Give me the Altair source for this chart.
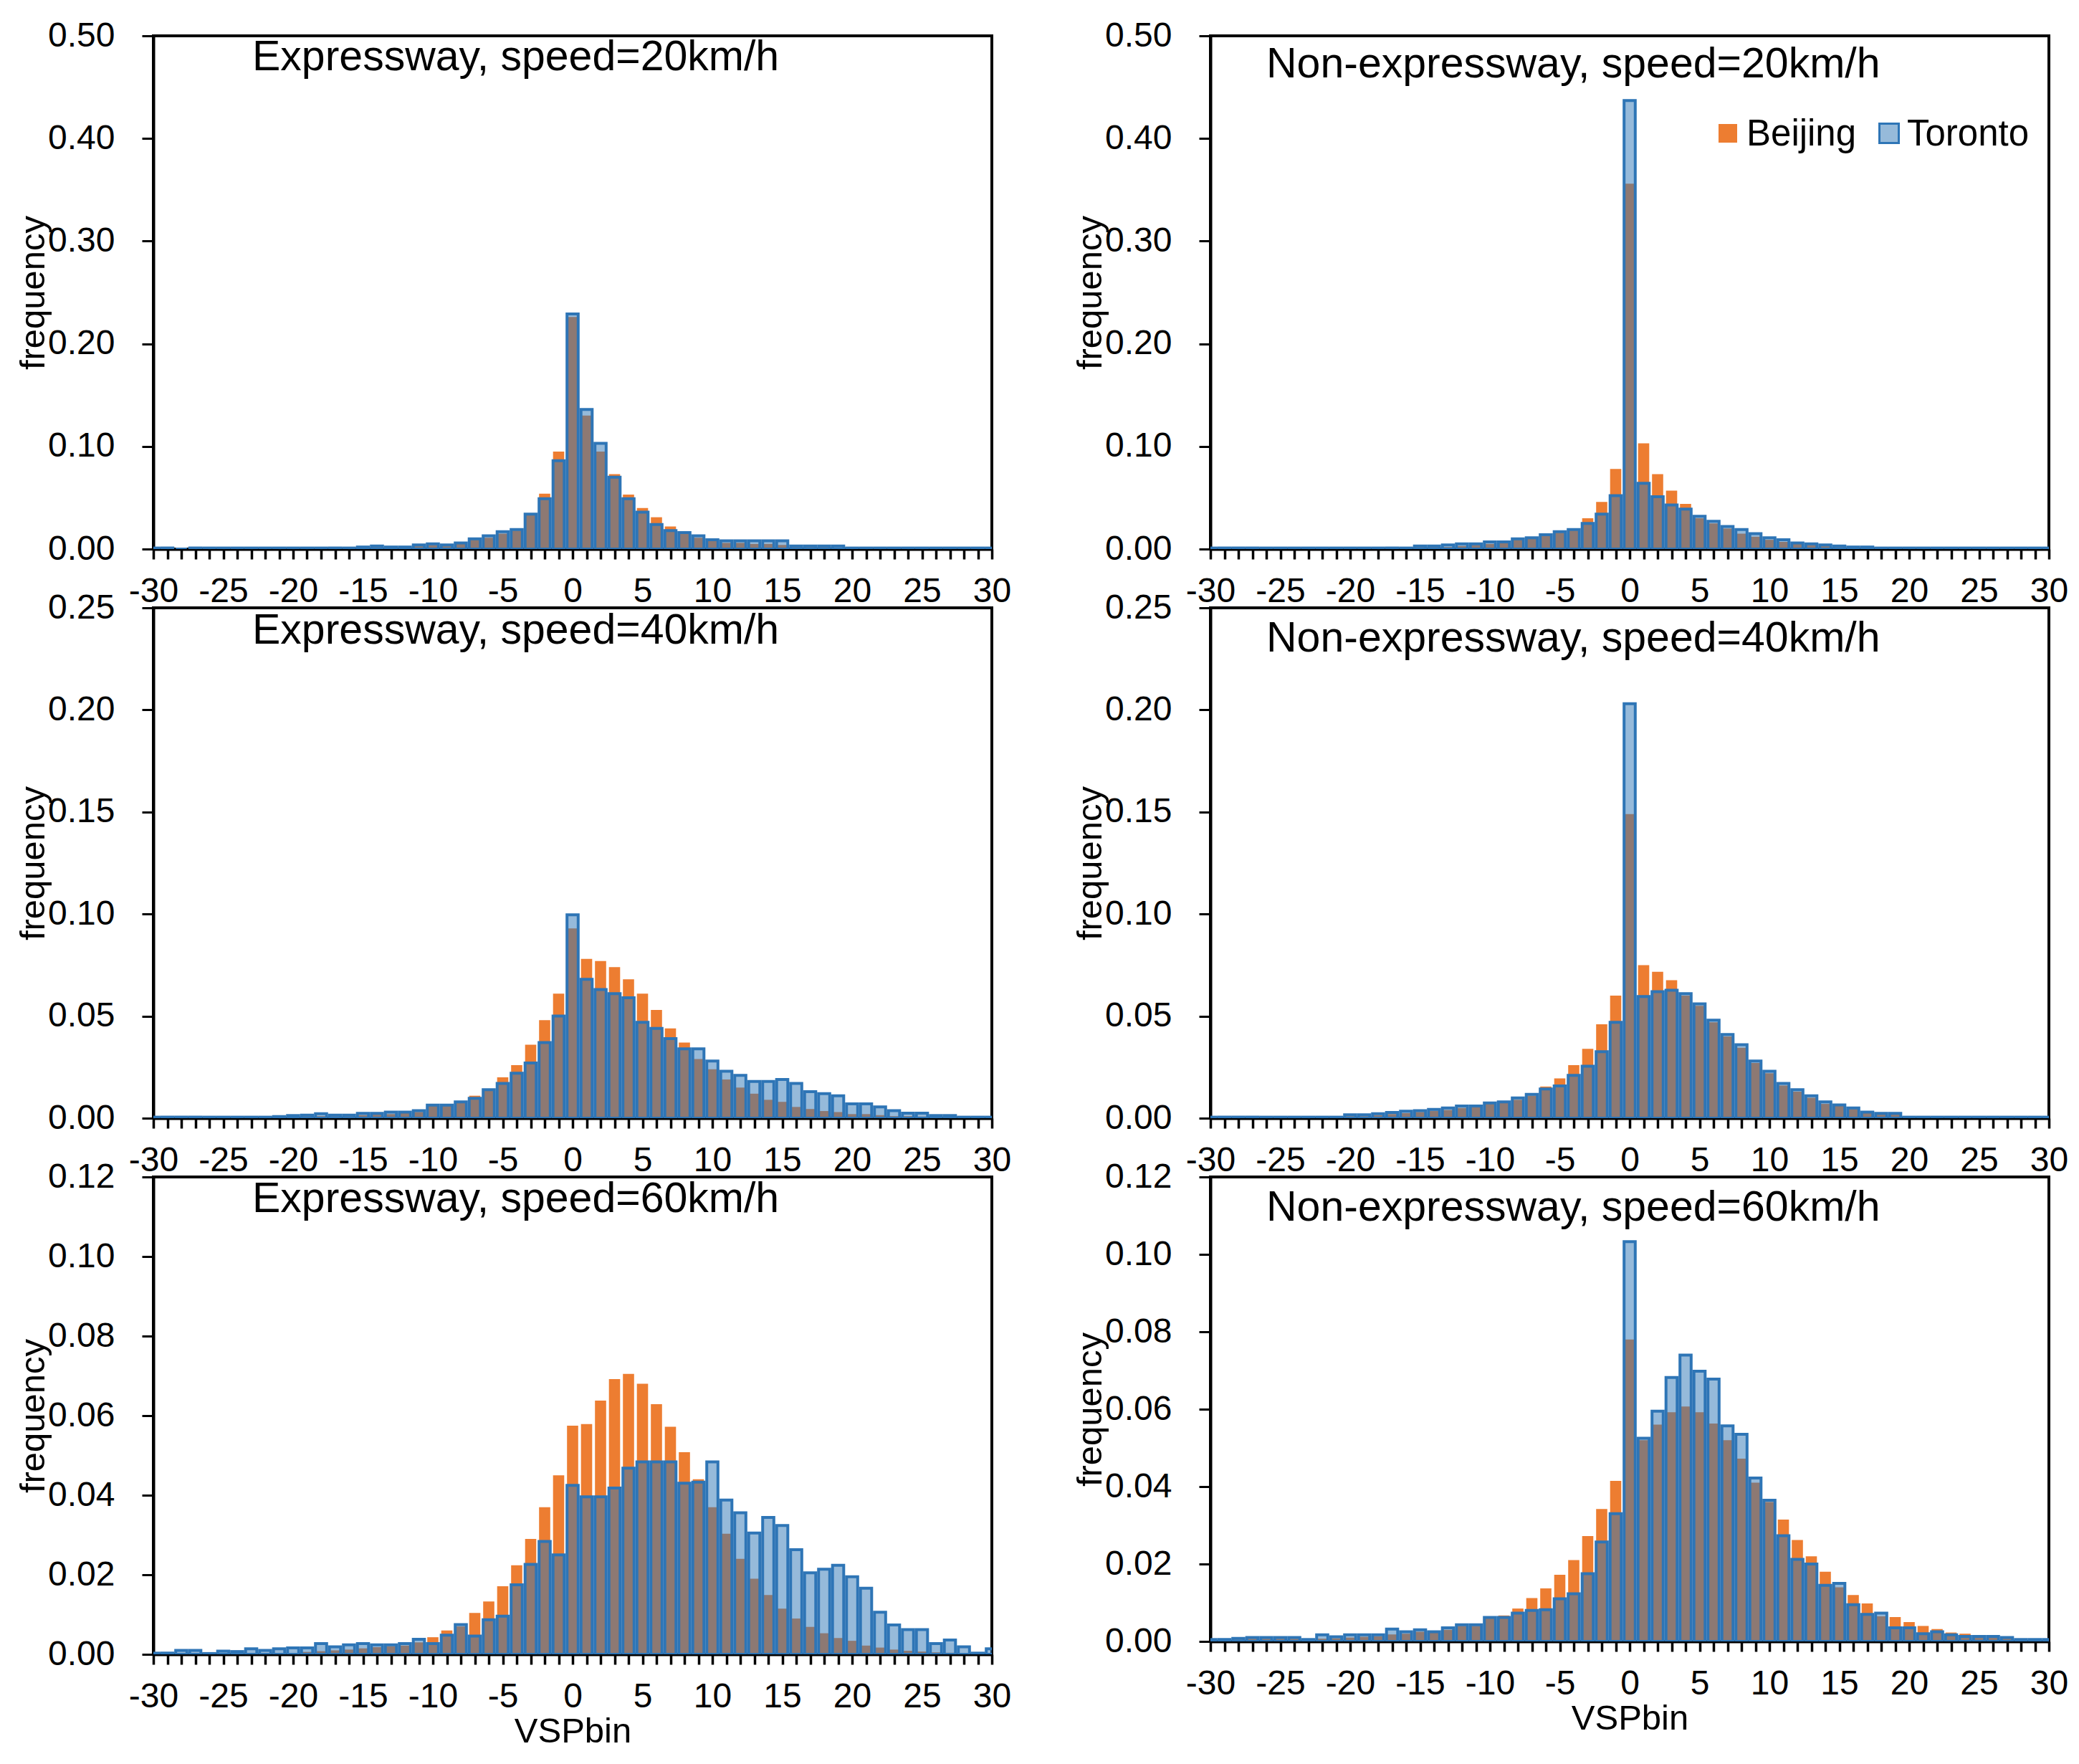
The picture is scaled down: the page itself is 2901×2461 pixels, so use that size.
import pandas as pd
import altair as alt

# VSP bins, one bar per integer bin
bins = list(range(-30, 31))

# frequencies, bins -30 .. 30
exp20_beijing = [0.0005, 0.0005, 0.0, 0.0008, 0.0008, 0.0008, 0.0008, 0.0008, 0.0008, 0.0008,
                 0.0008, 0.0008, 0.0008, 0.0008, 0.0008, 0.001, 0.002, 0.0015, 0.0015, 0.003,
                 0.004, 0.003, 0.005, 0.009, 0.011, 0.015, 0.018, 0.033, 0.054, 0.095,
                 0.226,
                 0.130, 0.095, 0.073, 0.053, 0.040, 0.031, 0.022, 0.017, 0.011, 0.008,
                 0.006, 0.006, 0.005, 0.005, 0.004, 0.002, 0.002, 0.002, 0.0015, 0.0008,
                 0.0008, 0.0008, 0.0008, 0.0008, 0.0008, 0.0008, 0.0008, 0.0008, 0.0008, 0.0008]
exp20_toronto = [0.001, 0.001, 0.0, 0.001, 0.001, 0.001, 0.001, 0.001, 0.001, 0.001,
                 0.001, 0.001, 0.001, 0.001, 0.001, 0.002, 0.003, 0.002, 0.002, 0.004,
                 0.005, 0.004, 0.006, 0.010, 0.013, 0.017, 0.019, 0.034, 0.049, 0.086,
                 0.229,
                 0.136, 0.103, 0.070, 0.049, 0.036, 0.024, 0.018, 0.016, 0.013, 0.009,
                 0.008, 0.008, 0.008, 0.008, 0.008, 0.003, 0.003, 0.003, 0.003, 0.001,
                 0.001, 0.001, 0.001, 0.001, 0.001, 0.001, 0.001, 0.001, 0.001, 0.001]

nonexp20_beijing = [0.0005, 0.0005, 0.0005, 0.0005, 0.0005, 0.0005, 0.0005, 0.0005, 0.0005, 0.0005,
                    0.0005, 0.0005, 0.0005, 0.0005, 0.0005, 0.002, 0.002, 0.002, 0.003, 0.004,
                    0.005, 0.006, 0.009, 0.010, 0.013, 0.016, 0.019, 0.030, 0.046, 0.078,
                    0.356,
                    0.103, 0.073, 0.057, 0.044, 0.030, 0.025, 0.020, 0.015, 0.012, 0.009,
                    0.007, 0.005, 0.004, 0.003, 0.002, 0.001, 0.001, 0.0005, 0.0005, 0.0005,
                    0.0005, 0.0005, 0.0005, 0.0005, 0.0005, 0.0005, 0.0005, 0.0005, 0.0005, 0.0005]
nonexp20_toronto = [0.001, 0.001, 0.001, 0.001, 0.001, 0.001, 0.001, 0.001, 0.001, 0.001,
                    0.001, 0.001, 0.001, 0.001, 0.001, 0.003, 0.003, 0.004, 0.005, 0.005,
                    0.007, 0.007, 0.010, 0.011, 0.014, 0.017, 0.019, 0.025, 0.034, 0.052,
                    0.437,
                    0.064, 0.051, 0.043, 0.039, 0.032, 0.027, 0.022, 0.019, 0.015, 0.011,
                    0.009, 0.006, 0.005, 0.004, 0.003, 0.002, 0.002, 0.001, 0.001, 0.001,
                    0.001, 0.001, 0.001, 0.001, 0.001, 0.001, 0.001, 0.001, 0.001, 0.001]

exp40_beijing = [0.0003, 0.0003, 0.0003, 0.0003, 0.0003, 0.0003, 0.0003, 0.0003, 0.0003, 0.0005,
                 0.0008, 0.001, 0.001, 0.001, 0.001, 0.0015, 0.002, 0.002, 0.0025, 0.003,
                 0.006, 0.006, 0.008, 0.011, 0.014, 0.020, 0.026, 0.036, 0.048, 0.061,
                 0.093,
                 0.078, 0.077, 0.074, 0.068, 0.061, 0.053, 0.044, 0.037, 0.029, 0.024,
                 0.019, 0.015, 0.012, 0.009, 0.008, 0.0055, 0.0045, 0.0035, 0.003, 0.002,
                 0.002, 0.0015, 0.001, 0.001, 0.0008, 0.0005, 0.0005, 0.0005, 0.0005, 0.0005]
exp40_toronto = [0.0005, 0.0005, 0.0005, 0.0005, 0.0005, 0.0005, 0.0005, 0.0005, 0.0005, 0.0008,
                 0.0013, 0.0015, 0.0022, 0.0015, 0.0015, 0.0024, 0.0024, 0.003, 0.003, 0.0037,
                 0.0064, 0.0064, 0.008, 0.0097, 0.014, 0.017, 0.022, 0.027, 0.037, 0.050,
                 0.0996,
                 0.068, 0.063, 0.061, 0.059, 0.047, 0.044, 0.039, 0.034, 0.034, 0.028,
                 0.023, 0.021, 0.018, 0.018, 0.019, 0.017, 0.013, 0.012, 0.011, 0.007,
                 0.007, 0.0055, 0.0037, 0.0025, 0.0025, 0.0013, 0.0013, 0.0005, 0.0005, 0.0005]

nonexp40_beijing = [0.0003, 0.0003, 0.0003, 0.0003, 0.0003, 0.0003, 0.0003, 0.0003, 0.0003, 0.0003,
                    0.001, 0.001, 0.0015, 0.002, 0.0025, 0.003, 0.0035, 0.004, 0.005, 0.0055,
                    0.007, 0.0075, 0.009, 0.011, 0.0155, 0.0195, 0.026, 0.034, 0.046, 0.060,
                    0.149,
                    0.075, 0.0717, 0.0676, 0.060, 0.055, 0.047, 0.040, 0.0345, 0.027, 0.022,
                    0.016, 0.013, 0.010, 0.007, 0.006, 0.0045, 0.0028, 0.002, 0.002, 0.0003,
                    0.0003, 0.0003, 0.0003, 0.0003, 0.0003, 0.0003, 0.0003, 0.0003, 0.0003, 0.0003]
nonexp40_toronto = [0.0005, 0.0005, 0.0005, 0.0005, 0.0005, 0.0005, 0.0005, 0.0005, 0.0005, 0.0005,
                    0.0017, 0.0017, 0.0022, 0.0028, 0.0034, 0.0037, 0.0043, 0.005, 0.006, 0.006,
                    0.0075, 0.008, 0.0099, 0.0117, 0.0143, 0.0158, 0.021, 0.0255, 0.0326, 0.047,
                    0.203,
                    0.0596, 0.062, 0.0627, 0.061, 0.056, 0.048, 0.041, 0.036, 0.028, 0.023,
                    0.017, 0.014, 0.011, 0.008, 0.0065, 0.005, 0.003, 0.0024, 0.0024, 0.0005,
                    0.0005, 0.0005, 0.0005, 0.0005, 0.0005, 0.0005, 0.0005, 0.0005, 0.0005, 0.0005]

exp60_beijing = [0.0003, 0.0003, 0.0003, 0.0003, 0.0003, 0.0003, 0.0003, 0.0003, 0.0003, 0.0003,
                 0.0003, 0.0006, 0.0008, 0.001, 0.0012, 0.0015, 0.0018, 0.002, 0.0022, 0.003,
                 0.0043, 0.006, 0.007, 0.0104, 0.0133, 0.0171, 0.0224, 0.029, 0.037, 0.045,
                 0.0575,
                 0.0579, 0.0638, 0.0692, 0.0705, 0.068, 0.0629, 0.0572, 0.0508, 0.044, 0.037,
                 0.0303, 0.024, 0.019, 0.0149, 0.0115, 0.009, 0.0069, 0.0053, 0.0041, 0.0034,
                 0.0022, 0.0017, 0.0012, 0.0009, 0.0007, 0.0005, 0.0004, 0.0003, 0.0002, 0.0002]
exp60_toronto = [0.0003, 0.0003, 0.001, 0.001, 0.0002, 0.0008, 0.0007, 0.0014, 0.001, 0.0014,
                 0.0016, 0.0016, 0.0027, 0.0019, 0.0024, 0.0027, 0.0024, 0.0024, 0.0027, 0.0038,
                 0.0027, 0.0048, 0.0075, 0.0046, 0.0087, 0.0096, 0.0175, 0.0226, 0.0284, 0.025,
                 0.0425,
                 0.0396, 0.0396, 0.0418, 0.0468, 0.0484, 0.0484, 0.0484, 0.043, 0.0433, 0.0484,
                 0.0388, 0.0356, 0.0305, 0.0344, 0.0324, 0.0263, 0.0205, 0.0214, 0.0224, 0.0195,
                 0.0166, 0.0106, 0.0074, 0.0062, 0.0062, 0.0027, 0.0036, 0.0019, 0.0003, 0.0014]

nonexp60_beijing = [0.0003, 0.0003, 0.0005, 0.0007, 0.0007, 0.0007, 0.0007, 0.0004, 0.0007, 0.0008,
                    0.001, 0.0012, 0.0013, 0.0018, 0.002, 0.0025, 0.0023, 0.003, 0.004, 0.004,
                    0.006, 0.0067, 0.0085, 0.0112, 0.0137, 0.0172, 0.021, 0.0272, 0.0342, 0.0415,
                    0.078,
                    0.052, 0.056, 0.0592, 0.0607, 0.0592, 0.0563, 0.052, 0.0472, 0.041, 0.036,
                    0.0315, 0.0262, 0.022, 0.018, 0.014, 0.012, 0.0098, 0.0065, 0.0063, 0.005,
                    0.004, 0.0032, 0.0023, 0.002, 0.0015, 0.001, 0.0008, 0.0005, 0.0003, 0.0003]
nonexp60_toronto = [0.0005, 0.0005, 0.0008, 0.001, 0.001, 0.001, 0.001, 0.0005, 0.0017, 0.0012,
                    0.0017, 0.0017, 0.0017, 0.0032, 0.0025, 0.003, 0.0025, 0.0035, 0.0043, 0.0043,
                    0.0062, 0.0062, 0.0073, 0.008, 0.0082, 0.011, 0.0123, 0.0175, 0.0257, 0.033,
                    0.1033,
                    0.0525, 0.0595, 0.0682, 0.074, 0.0698, 0.0678, 0.0557, 0.0535, 0.0422, 0.0365,
                    0.0273, 0.0212, 0.020, 0.0145, 0.015, 0.0095, 0.007, 0.0073, 0.0035, 0.0035,
                    0.002, 0.0025, 0.0017, 0.0013, 0.0013, 0.0013, 0.001, 0.0005, 0.0005, 0.0005]

# y tick labels for each row
yticks_20 = [0.0, 0.1, 0.2, 0.3, 0.4, 0.5]
yticks_40 = [0.0, 0.05, 0.10, 0.15, 0.20, 0.25]
yticks_60 = [0.0, 0.02, 0.04, 0.06, 0.08, 0.10, 0.12]

ORANGE = "#ED7D31"
BLUE = "#2E75B6"
FONT = "Liberation Sans"
W = 1170


def panel(beijing, toronto, title, tx, ty, yticks, height, xtitle=None, legend=False):
    df = pd.DataFrame({
        "bin": bins + bins,
        "city": ["Beijing"] * len(bins) + ["Toronto"] * len(bins),
        "freq": beijing + toronto,
    })
    base = alt.Chart(df).transform_calculate(
        lo="datum.bin - 0.4", hi="datum.bin + 0.4", zero="0"
    )
    x = alt.X("lo:Q",
              scale=alt.Scale(domain=[-30, 30], nice=False, zero=False),
              axis=alt.Axis(values=bins,
                            labelExpr="datum.value % 5 == 0 ? '' + datum.value : ''",
                            ticks=True, tickSize=14, tickWidth=3.5, tickColor="black",
                            labelPadding=21, titlePadding=0,
                            labelFlush=False, labelOverlap=False),
              title=xtitle)
    y = alt.Y("freq:Q",
              scale=alt.Scale(domain=[yticks[0], yticks[-1]], nice=False),
              axis=alt.Axis(values=yticks, format=".2f", ticks=True, tickSize=16,
                            labelPadding=38, titleX=-168, titleBaseline="middle"),
              title="frequency")

    bj = base.transform_filter(alt.datum.city == "Beijing").mark_bar(
        color=ORANGE, clip=True
    ).encode(x=x, x2="hi:Q", y=y, y2="zero:Q")

    tr = base.transform_filter(alt.datum.city == "Toronto").mark_bar(
        fill=BLUE, fillOpacity=0.5, stroke=BLUE, strokeWidth=4, clip=True
    ).encode(x=x, x2="hi:Q", y=y, y2="zero:Q")

    label = alt.Chart(pd.DataFrame({"t": [title]})).mark_text(
        align="left", baseline="alphabetic", fontSize=59, font=FONT, color="black"
    ).encode(x=alt.value(tx), y=alt.value(ty), text="t:N")

    layers = [bj, tr, label]

    if legend:
        names = pd.DataFrame({"name": ["Beijing", "Toronto"]})
        sq_b = alt.Chart(names).transform_filter(alt.datum.name == "Beijing").mark_square(
            size=26 * 26, color=ORANGE, opacity=1
        ).encode(x=alt.value(722), y=alt.value(136))
        sq_t = alt.Chart(names).transform_filter(alt.datum.name == "Toronto").mark_square(
            size=27 * 27, fill=BLUE, fillOpacity=0.5, stroke=BLUE, strokeWidth=3
        ).encode(x=alt.value(947), y=alt.value(136))
        tx_b = alt.Chart(names).transform_filter(alt.datum.name == "Beijing").mark_text(
            align="left", baseline="middle", fontSize=51, font=FONT, color="black"
        ).encode(x=alt.value(748), y=alt.value(138), text="name:N")
        tx_t = alt.Chart(names).transform_filter(alt.datum.name == "Toronto").mark_text(
            align="left", baseline="middle", fontSize=51, font=FONT, color="black"
        ).encode(x=alt.value(972), y=alt.value(138), text="name:N")
        layers += [sq_b, sq_t, tx_b, tx_t]

    return alt.layer(*layers).properties(width=W, height=height)


p1 = panel(exp20_beijing, exp20_toronto, "Expressway, speed=20km/h", 138, 48, yticks_20, 716)
p2 = panel(nonexp20_beijing, nonexp20_toronto, "Non-expressway, speed=20km/h", 78, 58, yticks_20, 716,
           legend=True)
p3 = panel(exp40_beijing, exp40_toronto, "Expressway, speed=40km/h", 138, 50, yticks_40, 712)
p4 = panel(nonexp40_beijing, nonexp40_toronto, "Non-expressway, speed=40km/h", 78, 61, yticks_40, 712)
p5 = panel(exp60_beijing, exp60_toronto, "Expressway, speed=60km/h", 138, 49, yticks_60, 666,
           xtitle="VSPbin")
p6 = panel(nonexp60_beijing, nonexp60_toronto, "Non-expressway, speed=60km/h", 78, 61, yticks_60, 648,
           xtitle="VSPbin")

chart = alt.concat(
    p1, p2, p3, p4, p5, p6,
    columns=2,
    spacing={"row": 82, "column": 305},
    bounds="flush",
    align="each",
).configure_view(
    stroke="black",
    strokeWidth=4,
).configure_axis(
    grid=False,
    labelFont=FONT,
    labelFontSize=48,
    labelColor="black",
    titleFont=FONT,
    titleFontSize=49,
    titleFontWeight="normal",
    titleColor="black",
    tickColor="black",
    tickWidth=3,
    domainColor="black",
    domainWidth=4,
).properties(
    padding={"left": 12, "top": 16, "right": 5, "bottom": 5},
    background="white",
)

chart.save("out.html", embed_options={"renderer": "svg", "actions": False})
